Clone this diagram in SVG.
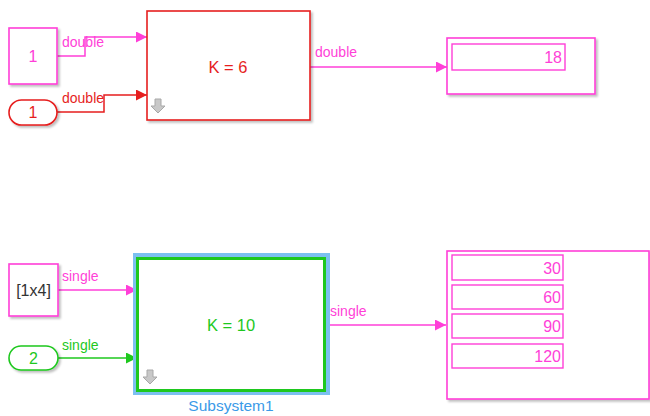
<svg xmlns="http://www.w3.org/2000/svg" width="650" height="416" viewBox="0 0 650 416">
<defs>
<marker id="ap" markerWidth="11" markerHeight="11" refX="11" refY="5.5" orient="auto" markerUnits="userSpaceOnUse"><path d="M0,0 L11,5.5 L0,11 Z" fill="#ff3fd8"/></marker>
<marker id="ar" markerWidth="11" markerHeight="11" refX="11" refY="5.5" orient="auto" markerUnits="userSpaceOnUse"><path d="M0,0 L11,5.5 L0,11 Z" fill="#e61e1e"/></marker>
<marker id="ag" markerWidth="11" markerHeight="11" refX="11" refY="5.5" orient="auto" markerUnits="userSpaceOnUse"><path d="M0,0 L11,5.5 L0,11 Z" fill="#1ec81e"/></marker>
<filter id="sh" x="-10%" y="-10%" width="130%" height="130%"><feDropShadow dx="2" dy="2" stdDeviation="1.2" flood-color="#000" flood-opacity="0.25"/></filter>
</defs>
<style>
text{font-family:"Liberation Sans",Arial,sans-serif}
.p{stroke:#ff3fd8}
.r{stroke:#e61e1e}
.g{stroke:#1ec81e}
.ln{fill:none;stroke-width:1.5}
.box{fill:#fff;stroke-width:1.6}
.lp{fill:#ff3fd8;font-size:14px}
.lr{fill:#e61e1e;font-size:14px}
.lg{fill:#1ec81e;font-size:14px}
.num{fill:#ff3fd8;font-size:16px;text-anchor:end}
.cell{fill:#fff;stroke:#ff3fd8;stroke-width:1.4}
</style>
<rect width="650" height="416" fill="#fff"/>
<g id="connectors">
<path class="ln p" d="M57,56 H85 V37 H147" marker-end="url(#ap)"/>
<text class="lp" x="62" y="47">double</text>
<path class="ln r" d="M57,112 H104 V95 H147" marker-end="url(#ar)"/>
<text class="lr" x="62" y="103">double</text>
<path class="ln p" d="M310,67 H447" marker-end="url(#ap)"/>
<text class="lp" x="315" y="57">double</text>
<path class="ln p" d="M58,290 H137" marker-end="url(#ap)"/>
<text class="lp" x="62" y="281">single</text>
<path class="ln g" d="M58,358 H137" marker-end="url(#ag)"/>
<text class="lg" x="62" y="350">single</text>
<path class="ln p" d="M325,325 H446" marker-end="url(#ap)"/>
<text class="lp" x="330" y="316">single</text>
</g>
<g id="const1">
<rect class="box p" x="9" y="28" width="48" height="56" filter="url(#sh)"/>
<text x="33" y="62" fill="#ff3fd8" font-size="16" text-anchor="middle">1</text>
</g>
<g id="inport1">
<rect class="box r" x="9" y="100" width="48" height="25" rx="12.5" filter="url(#sh)"/>
<text x="33" y="118" fill="#e61e1e" font-size="16" text-anchor="middle">1</text>
</g>
<g id="subsystem">
<rect class="box r" x="147" y="11" width="163" height="109" filter="url(#sh)"/>
<text x="228" y="73" fill="#e61e1e" font-size="16.5" text-anchor="middle">K = 6</text>
<path d="M155,99 h6 v7 h4 l-7,7 l-7,-7 h4 z" fill="#c8c8c8" stroke="#a8a8a8" stroke-width="1"/>
</g>
<g id="display1">
<rect class="box p" x="447" y="38" width="148" height="56" filter="url(#sh)"/>
<rect class="cell" x="452" y="44" width="113" height="26"/>
<text class="num" x="562" y="63">18</text>
</g>
<g id="const2">
<rect class="box p" x="9" y="264" width="49" height="52" filter="url(#sh)"/>
<text x="33.5" y="296" fill="#333" font-size="16" text-anchor="middle">[1x4]</text>
</g>
<g id="inport2">
<rect class="box g" x="9" y="346" width="49" height="24" rx="12" filter="url(#sh)"/>
<text x="33.5" y="364" fill="#1ec81e" font-size="16" text-anchor="middle">2</text>
</g>
<g id="subsystem1">
<rect x="133" y="253" width="197" height="142" fill="#7cc0f0"/>
<rect x="137.5" y="258.5" width="187" height="132" fill="#fff" stroke="#1ec81e" stroke-width="3"/>
<text x="231" y="331" fill="#1ec81e" font-size="16.5" text-anchor="middle">K = 10</text>
<path d="M147,370 h6 v7 h4 l-7,7 l-7,-7 h4 z" fill="#c8c8c8" stroke="#a8a8a8" stroke-width="1"/>
<text x="231" y="411" fill="#3a9ae8" font-size="15.5" text-anchor="middle">Subsystem1</text>
</g>
<g id="display2">
<rect class="box p" x="447" y="251" width="202" height="148" filter="url(#sh)"/>
<rect class="cell" x="452" y="255" width="111" height="25"/>
<text class="num" x="561" y="274">30</text>
<rect class="cell" x="452" y="285" width="111" height="24"/>
<text class="num" x="561" y="303">60</text>
<rect class="cell" x="452" y="314" width="111" height="24"/>
<text class="num" x="561" y="332">90</text>
<rect class="cell" x="452" y="344" width="111" height="24"/>
<text class="num" x="561" y="362">120</text>
</g>
</svg>
